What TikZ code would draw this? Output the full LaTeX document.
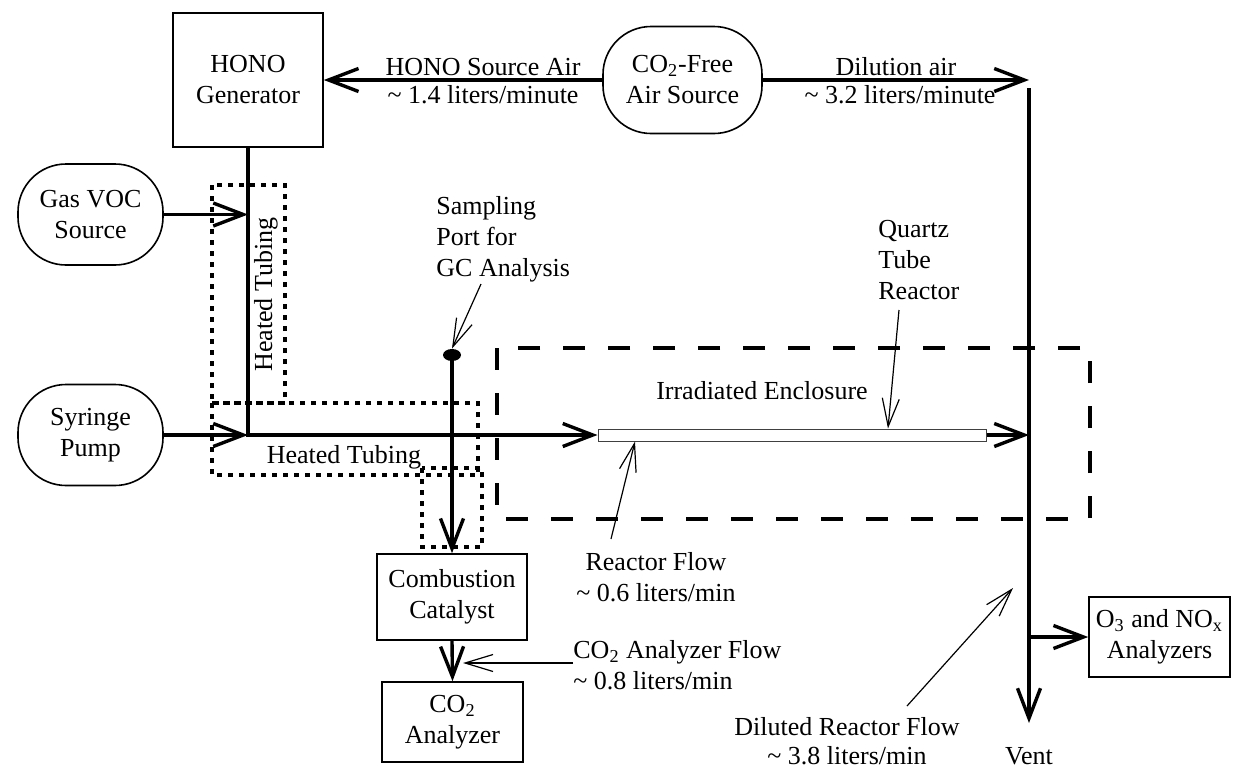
\documentclass[tikz,border=0pt]{standalone}
\usepackage{fontspec}
\setmainfont{Liberation Serif}
\usetikzlibrary{positioning,arrows.meta,shapes.geometric}
\tikzset{
  unitbox/.style  ={draw, line width=0.8pt, align=center, inner sep=0pt},
  srcbox/.style   ={draw, line width=0.8pt, rounded corners=24pt, align=center, inner sep=0pt,
                    minimum width=72.5pt, minimum height=50.5pt},
  lbl/.style      ={inner sep=0pt, align=center},
  flow/.style     ={line width=1.7pt, -{Straight Barb[length=15pt,width=11.5pt]}},
  callout/.style  ={line width=0.6pt, -{Straight Barb[length=14pt,width=8.5pt]}},
  heated/.style   ={line width=1.6pt, dash pattern=on 2.5pt off 3pt},
  enclosure/.style={line width=1.6pt, dash pattern=on 11pt off 11.5pt},
}
\newcommand{\abt}{{\char"7E}}

\begin{document}
\begin{tikzpicture}[x=0.5pt,y=-0.5pt,font=\fontsize{13}{15.5}\selectfont]
  \useasboundingbox (0,0) rectangle (1233,772);
  % units and sources
  \node[unitbox, minimum width=75pt, minimum height=67pt] (hono) at (248,80) {HONO\\Generator};
  \node[srcbox, minimum width=79.5pt, minimum height=53.5pt] (air) at (682.5,80) {CO\textsubscript{2}-Free\\Air Source};
  \node[srcbox] (voc) at (90.5,214.5) {Gas VOC\\Source};
  \node[srcbox] (pump) at (90.5,435) {Syringe\\Pump};
  \node[unitbox, minimum width=75pt, minimum height=43pt] (cat) at (452,597) {Combustion\\Catalyst};
  \node[unitbox, minimum width=70.5pt, minimum height=40pt] (co2) at (452.5,722) {CO\textsubscript{2}\\Analyzer};
  \node[unitbox, minimum width=70.5pt, minimum height=40pt] (nox) at (1159.5,637) {O\textsubscript{3} and NO\textsubscript{x}\\Analyzers};
  \node[draw=black!75, line width=0.5pt, minimum width=194pt, minimum height=6pt, inner sep=0pt] (tube) at (792,435) {};
  \node[ellipse, fill, minimum width=9pt, minimum height=6pt, inner sep=0pt] (port) at (452,355) {};

  % heated tubing and irradiated enclosure
  \draw[heated] (212,185) rectangle (285,403);
  \draw[heated] (212,403) rectangle (478,475);
  \draw[heated] (422,468) rectangle (482,547);
  \draw[enclosure] (497,348) rectangle (1090,519);

  % junctions
  \coordinate (vocin) at (248,214.5);
  \coordinate (pumpin) at (248,435);
  \coordinate (dilend) at (1029,80);
  \coordinate (mixtop) at (1029,88);
  \coordinate (mixin) at (1029,435);
  \coordinate (noxtap) at (1029,637);
  \coordinate (ventend) at (1029,723);

  % gas flows
  \draw[flow] (air.west) -- (hono.east);
  \draw[flow] (air.east) -- (dilend);
  \draw[flow] (mixtop) -- (ventend);
  \draw[flow] (voc.east) -- (vocin);
  \draw[flow] (pump.east) -- (pumpin);
  \draw[flow] (hono.south) |- (tube.west);
  \draw[flow] (tube.east) -- (mixin);
  \draw[flow] (noxtap) -- (nox.west);
  \draw[flow] (port.center) -- (cat.north);
  \draw[flow] (cat.south) -- (co2.north);

  % labels
  \node[lbl, anchor=base] (srclbl) at (483,75) {HONO Source Air};
  \node[lbl, anchor=base] (srcrate) at (483,103) {\abt{} 1.4 liters/minute};
  \node[lbl, anchor=base] (dillbl) at (896,75) {Dilution air};
  \node[lbl, anchor=base] (dilrate) at (900,103) {\abt{} 3.2 liters/minute};
  \node[lbl, anchor=base, rotate=90] (heatv) at (272,294.5) {Heated Tubing};
  \node[lbl, anchor=base] (heath) at (344,463) {Heated Tubing};
  \node[lbl, anchor=base] (irrlbl) at (762,399) {Irradiated Enclosure};
  \node[lbl, align=left, anchor=north west] (portlbl) at (436,196) {Sampling\\Port for\\GC Analysis};
  \node[lbl, align=left, anchor=north west] (quartzlbl) at (878,220) {Quartz\\Tube\\Reactor};
  \node[lbl, anchor=north] (rflowlbl) at (656,552) {Reactor Flow\\\abt{} 0.6 liters/min};
  \node[lbl, align=left, anchor=north west] (aflowlbl) at (573,640) {CO\textsubscript{2} Analyzer Flow\\\abt{} 0.8 liters/min};
  \node[lbl, anchor=north, font=\fontsize{13}{14.5}\selectfont] (dflowlbl) at (847,717) {Diluted Reactor Flow\\\abt{} 3.8 liters/min};
  \node[lbl, below=12pt of ventend] (vent) {Vent};

  % pointers
  \coordinate (portfrom) at (481,284);
  \coordinate (quartzfrom) at (899,310);
  \coordinate (rflowfrom) at (611,539);
  \coordinate (aflowfrom) at (573,663);
  \coordinate (aflowto) at (463,663);
  \coordinate (dflowfrom) at (907,706);
  \coordinate (dflowto) at (1013,588);
  \draw[callout] (portfrom) -- (port.north);
  \draw[callout] (quartzfrom) -- ([xshift=48pt]tube.north);
  \draw[callout] (rflowfrom) -- ([xshift=-78.5pt]tube.south);
  \draw[callout] (aflowfrom) -- (aflowto);
  \draw[callout] (dflowfrom) -- (dflowto);
\end{tikzpicture}
\end{document}
